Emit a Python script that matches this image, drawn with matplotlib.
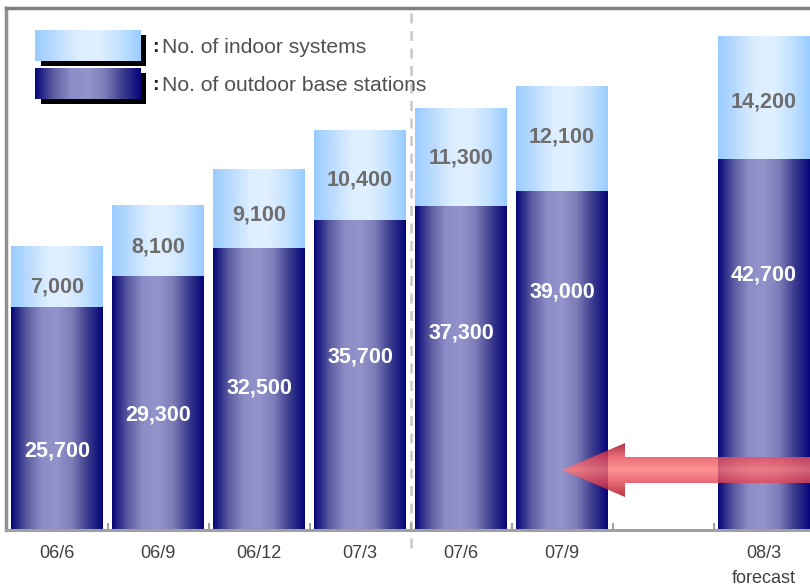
import numpy as np
import matplotlib
matplotlib.use("Agg")
import matplotlib.pyplot as plt
from matplotlib.patches import Polygon, Rectangle
from matplotlib.colors import LinearSegmentedColormap
from matplotlib import font_manager

# quarterly counts (08/3 is a forecast), an empty slot sits before it
periods = ["06/6", "06/9", "06/12", "07/3", "07/6", "07/9", "", "08/3"]
outdoor = [25700, 29300, 32500, 35700, 37300, 39000, None, 42700]
indoor = [7000, 8100, 9100, 10400, 11300, 12100, None, 14200]

# where each value label sits, as a fraction of its own segment
out_label_frac = [0.354, 0.452, 0.503, 0.558, 0.608, 0.703, None, 0.688]
in_label_frac = [0.33, 0.40, 0.41, 0.44, 0.49, 0.52, None, 0.46]

navy_grad = ["#08087a", "#5a5aa0", "#8c8cc6", "#9494cc", "#7c7cb8", "#3c3c8e", "#06067a"]
sky_grad = ["#99ccff", "#bcdcff", "#dceeff", "#e0f0ff", "#c4e2ff", "#99ccff"]
arrow_grad = ["#a80c1c", "#e04454", "#ff7a7a", "#e84c5c", "#a00c1c"]

# narrow face for the value labels if it is around
try:
    font_manager.findfont("Liberation Sans Narrow", fallback_to_default=False)
    value_font, value_size = "Liberation Sans Narrow", 17
except ValueError:
    value_font, value_size = "Liberation Sans", 15.5


def fill_gradient(ax, patch, colors, vertical=False, alpha=1.0):
    cmap = LinearSegmentedColormap.from_list("g", colors)
    img = cmap(np.linspace(0, 1, 200))[None, :, :]
    if vertical:
        img = np.transpose(img, (1, 0, 2))
    bb = patch.get_path().get_extents(patch.get_patch_transform())
    im = ax.imshow(img, extent=(bb.x0, bb.x1, bb.y0, bb.y1), aspect="auto", origin="lower",
                   transform=patch.get_data_transform(), alpha=alpha,
                   zorder=patch.get_zorder(), interpolation="bilinear")
    im.set_clip_path(patch)
    return im


fig = plt.figure(figsize=(8.1, 5.87), dpi=100)
ax = fig.add_axes([6 / 810, 57 / 587, 1 - 6 / 810, 522 / 587])

x = np.arange(len(periods))
width = 0.91
for i in range(len(periods)):
    if outdoor[i] is None:
        continue
    b_out = ax.bar(x[i], outdoor[i], width=width, color="none", zorder=2)[0]
    b_in = ax.bar(x[i], indoor[i], bottom=outdoor[i], width=width, color="none", zorder=2)[0]
    fill_gradient(ax, b_out, navy_grad)
    fill_gradient(ax, b_in, sky_grad)
    ax.text(x[i], outdoor[i] * out_label_frac[i], f"{outdoor[i]:,}", ha="center", va="center",
            color="white", fontsize=value_size, fontweight="bold", family=value_font, zorder=5)
    ax.text(x[i], outdoor[i] + indoor[i] * in_label_frac[i], f"{indoor[i]:,}", ha="center",
            va="center", color="#6e6e6e", fontsize=value_size, fontweight="bold",
            family=value_font, zorder=5)

# frame
ax.spines["right"].set_visible(False)
ax.spines["top"].set_color("#808080")
ax.spines["top"].set_linewidth(2.5)
ax.spines["left"].set_color("#909090")
ax.spines["left"].set_linewidth(2.5)
ax.spines["bottom"].set_color("#a0a0a0")
ax.spines["bottom"].set_linewidth(2.2)
ax.set_yticks([])
ax.set_xticks(x)
ax.set_xticklabels(periods, fontsize=13, color="#404040", family="Liberation Sans")
ax.tick_params(axis="x", length=0, pad=11)
ax.set_xticks(np.arange(0.5, 7, 1), minor=True)
ax.tick_params(axis="x", which="minor", direction="in", length=5, width=1.5, color="#a0a0a0")
ax.text(x[7], -0.093, "forecast", transform=ax.get_xaxis_transform(), ha="center", va="center",
        fontsize=13, color="#404040", family="Liberation Sans")

# divider between actual half-years
ax.axvline(3.5, ymin=-0.034, ymax=0.995, color="#c8c8c8", lw=1.8, ls=(0, (4, 3)),
           clip_on=False, zorder=1)

# legend swatches with drop shadows
legend_items = [("No. of indoor systems", sky_grad), ("No. of outdoor base stations", navy_grad)]
for k, (label, cols) in enumerate(legend_items):
    y0 = (530 - 61 - k * 38) / 522
    sh = Rectangle(((41 - 6) / 804, y0 - 5 / 522), 105 / 804, 31 / 522, transform=ax.transAxes,
                   facecolor="black", edgecolor="none", zorder=6)
    ax.add_patch(sh)
    sw = Rectangle(((35 - 6) / 804, y0), 106 / 804, 31 / 522, transform=ax.transAxes,
                   facecolor="none", edgecolor="none", zorder=7)
    ax.add_patch(sw)
    fill_gradient(ax, sw, cols)
    ax.text((152 - 6) / 804, y0 + 13.5 / 522, ":", transform=ax.transAxes, ha="left", va="center",
            fontsize=14, fontweight="bold", color="#202020", family="Liberation Sans", zorder=8)
    ax.text((162 - 6) / 804, y0 + 13.5 / 522, label, transform=ax.transAxes, ha="left", va="center",
            fontsize=15.2, color="#505050", family="Liberation Sans", zorder=8)

# arrow pointing back from the forecast
tip_x, head_x = (562 - 6) / 804, (625 - 6) / 804
yc, hs, hh = (530 - 470) / 522, 13 / 522, 27 / 522
arrow_pts = [(tip_x, yc), (head_x, yc + hh), (head_x, yc + hs), (1.02, yc + hs),
             (1.02, yc - hs), (head_x, yc - hs), (head_x, yc - hh)]
arrow = Polygon(arrow_pts, closed=True, transform=ax.transAxes, facecolor="none",
                edgecolor="none", zorder=9)
ax.add_patch(arrow)
fill_gradient(ax, arrow, arrow_grad, vertical=True, alpha=0.82)

ax.set_xlim(-0.505, 7.455)
ax.set_ylim(0, 60100)

fig.savefig("out.png", dpi=100)
